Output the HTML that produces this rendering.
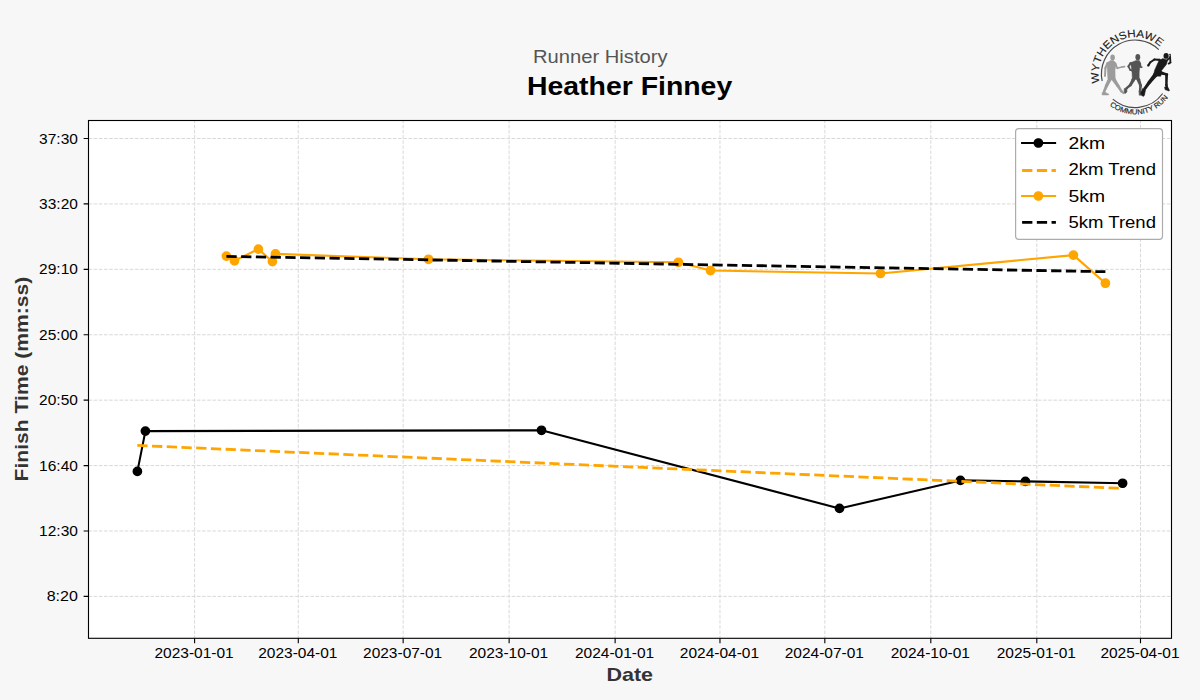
<!DOCTYPE html><html><head><meta charset="utf-8"><title>Runner History - Heather Finney</title><style>html,body{margin:0;padding:0;background:#f7f7f7;}svg{display:block}text{font-family:"Liberation Sans",sans-serif}</style></head><body>
<svg width="1200" height="700" viewBox="0 0 1200 700">
<rect x="0" y="0" width="1200" height="700" fill="#f7f7f7"/>
<rect x="88.5" y="120.5" width="1083.0" height="517.8" fill="#ffffff"/>
<path d="M88.5 138.50H1171.5 M88.5 203.92H1171.5 M88.5 269.33H1171.5 M88.5 334.75H1171.5 M88.5 400.16H1171.5 M88.5 465.57H1171.5 M88.5 530.99H1171.5 M88.5 596.40H1171.5" stroke="#d8d8d8" stroke-width="0.97" stroke-dasharray="3.6 1.56" fill="none"/>
<path d="M194.60 638.3V120.5 M298.29 638.3V120.5 M403.14 638.3V120.5 M509.13 638.3V120.5 M615.13 638.3V120.5 M719.97 638.3V120.5 M824.82 638.3V120.5 M930.81 638.3V120.5 M1036.81 638.3V120.5 M1140.50 638.3V120.5" stroke="#d8d8d8" stroke-width="0.97" stroke-dasharray="3.6 1.56" fill="none" stroke-dashoffset="0.86"/>
<g clip-path="url(#axclip)">
<path d="M137.4 471.4 L145.4 431.1 L541.5 430.3 L839.5 508.4 L960.4 480.4 L1025.4 481.4 L1122.6 483.25" stroke="#000000" stroke-width="2.08" fill="none" stroke-linejoin="round" stroke-linecap="square"/>
<circle cx="137.4" cy="471.4" r="4.17" fill="#000000" stroke="#000000" stroke-width="1.39"/>
<circle cx="145.4" cy="431.1" r="4.17" fill="#000000" stroke="#000000" stroke-width="1.39"/>
<circle cx="541.5" cy="430.3" r="4.17" fill="#000000" stroke="#000000" stroke-width="1.39"/>
<circle cx="839.5" cy="508.4" r="4.17" fill="#000000" stroke="#000000" stroke-width="1.39"/>
<circle cx="960.4" cy="480.4" r="4.17" fill="#000000" stroke="#000000" stroke-width="1.39"/>
<circle cx="1025.4" cy="481.4" r="4.17" fill="#000000" stroke="#000000" stroke-width="1.39"/>
<circle cx="1122.6" cy="483.25" r="4.17" fill="#000000" stroke="#000000" stroke-width="1.39"/>
<path d="M137.3 445.4 L1122.6 488.4" stroke="#ffa500" stroke-width="2.78" stroke-dasharray="10.28 4.45" fill="none"/>
<path d="M226.4 256.1 L234.5 260.8 L258.4 249.1 L272.4 261.6 L275.5 253.9 L428.5 259.3 L678.4 262.3 L710.5 270.55 L880.5 273.5 L1073.4 255.1 L1105.4 283.2" stroke="#ffa500" stroke-width="2.08" fill="none" stroke-linejoin="round" stroke-linecap="square"/>
<circle cx="226.4" cy="256.1" r="4.17" fill="#ffa500" stroke="#ffa500" stroke-width="1.39"/>
<circle cx="234.5" cy="260.8" r="4.17" fill="#ffa500" stroke="#ffa500" stroke-width="1.39"/>
<circle cx="258.4" cy="249.1" r="4.17" fill="#ffa500" stroke="#ffa500" stroke-width="1.39"/>
<circle cx="272.4" cy="261.6" r="4.17" fill="#ffa500" stroke="#ffa500" stroke-width="1.39"/>
<circle cx="275.5" cy="253.9" r="4.17" fill="#ffa500" stroke="#ffa500" stroke-width="1.39"/>
<circle cx="428.5" cy="259.3" r="4.17" fill="#ffa500" stroke="#ffa500" stroke-width="1.39"/>
<circle cx="678.4" cy="262.3" r="4.17" fill="#ffa500" stroke="#ffa500" stroke-width="1.39"/>
<circle cx="710.5" cy="270.55" r="4.17" fill="#ffa500" stroke="#ffa500" stroke-width="1.39"/>
<circle cx="880.5" cy="273.5" r="4.17" fill="#ffa500" stroke="#ffa500" stroke-width="1.39"/>
<circle cx="1073.4" cy="255.1" r="4.17" fill="#ffa500" stroke="#ffa500" stroke-width="1.39"/>
<circle cx="1105.4" cy="283.2" r="4.17" fill="#ffa500" stroke="#ffa500" stroke-width="1.39"/>
<path d="M226.4 256.4 L1105.4 271.7" stroke="#000000" stroke-width="2.78" stroke-dasharray="10.28 4.45" fill="none"/>
</g>
<defs><clipPath id="axclip"><rect x="88.5" y="120.5" width="1083.0" height="517.8"/></clipPath></defs>
<rect x="88.5" y="120.5" width="1083.0" height="517.8" fill="none" stroke="#000" stroke-width="1.11"/>
<path d="M83.64 138.50H88.5 M83.64 203.92H88.5 M83.64 269.33H88.5 M83.64 334.75H88.5 M83.64 400.16H88.5 M83.64 465.57H88.5 M83.64 530.99H88.5 M83.64 596.40H88.5 M194.60 638.3V643.16 M298.29 638.3V643.16 M403.14 638.3V643.16 M509.13 638.3V643.16 M615.13 638.3V643.16 M719.97 638.3V643.16 M824.82 638.3V643.16 M930.81 638.3V643.16 M1036.81 638.3V643.16 M1140.50 638.3V643.16" stroke="#000" stroke-width="1.11" fill="none"/>
<text x="77.9" y="143.50" font-size="14.3" text-anchor="end" textLength="38.8" lengthAdjust="spacingAndGlyphs" fill="#000">37:30</text>
<text x="77.9" y="208.92" font-size="14.3" text-anchor="end" textLength="38.8" lengthAdjust="spacingAndGlyphs" fill="#000">33:20</text>
<text x="77.9" y="274.33" font-size="14.3" text-anchor="end" textLength="38.8" lengthAdjust="spacingAndGlyphs" fill="#000">29:10</text>
<text x="77.9" y="339.75" font-size="14.3" text-anchor="end" textLength="38.8" lengthAdjust="spacingAndGlyphs" fill="#000">25:00</text>
<text x="77.9" y="405.16" font-size="14.3" text-anchor="end" textLength="38.8" lengthAdjust="spacingAndGlyphs" fill="#000">20:50</text>
<text x="77.9" y="470.57" font-size="14.3" text-anchor="end" textLength="38.8" lengthAdjust="spacingAndGlyphs" fill="#000">16:40</text>
<text x="77.9" y="535.99" font-size="14.3" text-anchor="end" textLength="38.8" lengthAdjust="spacingAndGlyphs" fill="#000">12:30</text>
<text x="77.9" y="601.40" font-size="14.3" text-anchor="end" textLength="31.21" lengthAdjust="spacingAndGlyphs" fill="#000">8:20</text>
<text x="194.10" y="658.1" font-size="14.3" text-anchor="middle" textLength="79.2" lengthAdjust="spacingAndGlyphs" fill="#000">2023-01-01</text>
<text x="297.79" y="658.1" font-size="14.3" text-anchor="middle" textLength="79.2" lengthAdjust="spacingAndGlyphs" fill="#000">2023-04-01</text>
<text x="402.64" y="658.1" font-size="14.3" text-anchor="middle" textLength="79.2" lengthAdjust="spacingAndGlyphs" fill="#000">2023-07-01</text>
<text x="508.63" y="658.1" font-size="14.3" text-anchor="middle" textLength="79.2" lengthAdjust="spacingAndGlyphs" fill="#000">2023-10-01</text>
<text x="614.63" y="658.1" font-size="14.3" text-anchor="middle" textLength="79.2" lengthAdjust="spacingAndGlyphs" fill="#000">2024-01-01</text>
<text x="719.47" y="658.1" font-size="14.3" text-anchor="middle" textLength="79.2" lengthAdjust="spacingAndGlyphs" fill="#000">2024-04-01</text>
<text x="824.32" y="658.1" font-size="14.3" text-anchor="middle" textLength="79.2" lengthAdjust="spacingAndGlyphs" fill="#000">2024-07-01</text>
<text x="930.31" y="658.1" font-size="14.3" text-anchor="middle" textLength="79.2" lengthAdjust="spacingAndGlyphs" fill="#000">2024-10-01</text>
<text x="1036.31" y="658.1" font-size="14.3" text-anchor="middle" textLength="79.2" lengthAdjust="spacingAndGlyphs" fill="#000">2025-01-01</text>
<text x="1140.00" y="658.1" font-size="14.3" text-anchor="middle" textLength="79.2" lengthAdjust="spacingAndGlyphs" fill="#000">2025-04-01</text>
<text x="629.75" y="680.75" font-size="17.8" font-weight="bold" text-anchor="middle" textLength="46.6" lengthAdjust="spacingAndGlyphs" fill="#333333">Date</text>
<text transform="translate(27.9 379.1) rotate(-90)" x="0" y="0" font-size="17.8" font-weight="bold" text-anchor="middle" textLength="204.6" lengthAdjust="spacingAndGlyphs" fill="#333333">Finish Time (mm:ss)</text>
<text x="600.3" y="62.9" font-size="17.8" text-anchor="middle" textLength="134.6" lengthAdjust="spacingAndGlyphs" fill="#555555">Runner History</text>
<text x="629.6" y="95" font-size="25.2" font-weight="bold" text-anchor="middle" textLength="205.3" lengthAdjust="spacingAndGlyphs" fill="#000">Heather Finney</text>
<rect x="1015.6" y="128.6" width="146.89999999999998" height="110.70000000000002" rx="3.3" ry="3.3" fill="#ffffff" stroke="#acacac" stroke-width="1.2"/>
<path d="M1022.1 143H1055.1" stroke="#000000" stroke-width="2.08" stroke-linecap="square"/>
<circle cx="1038.4" cy="143" r="4.17" fill="#000000" stroke="#000000" stroke-width="1.39"/>
<text x="1068.5" y="148.9" font-size="17.4" textLength="36.5" lengthAdjust="spacingAndGlyphs" fill="#000">2km</text>
<path d="M1022.1 170.5H1055.9" stroke="#ffa500" stroke-width="2.78" stroke-dasharray="10.28 4.45"/>
<text x="1068.5" y="174.9" font-size="17.4" textLength="87.42" lengthAdjust="spacingAndGlyphs" fill="#000">2km Trend</text>
<path d="M1022.1 196H1055.1" stroke="#ffa500" stroke-width="2.08" stroke-linecap="square"/>
<circle cx="1038.4" cy="196" r="4.17" fill="#ffa500" stroke="#ffa500" stroke-width="1.39"/>
<text x="1068.5" y="202" font-size="17.4" textLength="36.5" lengthAdjust="spacingAndGlyphs" fill="#000">5km</text>
<path d="M1022.1 222.4H1055.9" stroke="#000000" stroke-width="2.78" stroke-dasharray="10.28 4.45"/>
<text x="1068.5" y="227.9" font-size="17.4" textLength="87.42" lengthAdjust="spacingAndGlyphs" fill="#000">5km Trend</text>
<g id="logo"><path d="M1102.18 81.00 A33.8 33.8 0 0 1 1158.76 49.57" stroke="#4a4a4a" stroke-width="1.2" fill="none"/><path d="M1112.80 99.11 A33.8 33.8 0 0 0 1162.65 93.52" stroke="#4a4a4a" stroke-width="1.2" fill="none"/><defs><path id="arcT" d="M1099.77 82.96 A36.6 36.6 0 0 1 1159.74 46.64"/><path id="arcB" d="M1109.65 105.35 A40.6 40.6 0 0 0 1168.05 97.66"/></defs><text font-size="10.6" fill="#1a1a1a" stroke="#1a1a1a" stroke-width="0.12"><textPath href="#arcT" textLength="93.6" lengthAdjust="spacingAndGlyphs">WYTHENSHAWE</textPath></text><text font-size="7.2" fill="#222" stroke="#222" stroke-width="0.15"><textPath href="#arcB" textLength="65.9" lengthAdjust="spacingAndGlyphs">COMMUNITY RUN</textPath></text><ellipse cx="1112.6" cy="57.4" rx="2.3" ry="3.0" fill="#9c9c9c"/><path d="M1110.4 60.6 L1113.6 60.6 L1114.9 62.0 L1116.0 64.8 L1115.0 70.0 L1115.2 78.4 L1107.9 78.8 L1107.4 72.0 L1107.0 64.0 L1108.2 62.0Z" fill="#9c9c9c" stroke="#9c9c9c" stroke-width="0.5" stroke-linejoin="round"/><path d="M1106.59 62.56 L1104.42 67.80 L1104.10 75.96 L1105.90 76.04 L1106.38 68.20 L1108.61 63.44Z" fill="#9c9c9c"/><circle cx="1107.6" cy="63.0" r="1.10" fill="#9c9c9c"/><circle cx="1105.4" cy="68.0" r="1.00" fill="#9c9c9c"/><circle cx="1105.0" cy="76.0" r="0.90" fill="#9c9c9c"/><path d="M1114.20 63.86 L1116.96 69.04 L1122.17 67.78 L1124.72 67.39 L1124.48 65.81 L1121.83 66.22 L1117.84 67.36 L1116.20 62.94Z" fill="#9c9c9c"/><circle cx="1115.2" cy="63.4" r="1.10" fill="#9c9c9c"/><circle cx="1117.4" cy="68.2" r="0.95" fill="#9c9c9c"/><circle cx="1122.0" cy="67.0" r="0.80" fill="#9c9c9c"/><circle cx="1124.6" cy="66.6" r="0.80" fill="#9c9c9c"/><path d="M1108.41 77.51 L1105.15 84.93 L1102.89 91.34 L1105.11 92.26 L1108.05 86.27 L1111.99 79.29Z" fill="#9c9c9c"/><circle cx="1110.2" cy="78.4" r="2.00" fill="#9c9c9c"/><circle cx="1106.6" cy="85.6" r="1.60" fill="#9c9c9c"/><circle cx="1104.0" cy="91.8" r="1.20" fill="#9c9c9c"/><path d="M1102.0 92.6 L1104.8 92.0 L1108.8 94.2 L1108.6 95.0 L1102.2 95.0Z" fill="#9c9c9c" stroke="#9c9c9c" stroke-width="0.5" stroke-linejoin="round"/><path d="M1111.53 79.70 L1116.54 86.42 L1120.46 91.94 L1123.16 93.97 L1124.44 92.43 L1122.34 90.46 L1119.06 84.78 L1114.87 77.50Z" fill="#9c9c9c"/><circle cx="1113.2" cy="78.6" r="2.00" fill="#9c9c9c"/><circle cx="1117.8" cy="85.6" r="1.50" fill="#9c9c9c"/><circle cx="1121.4" cy="91.2" r="1.20" fill="#9c9c9c"/><circle cx="1123.8" cy="93.2" r="1.00" fill="#9c9c9c"/><ellipse cx="1137.8" cy="57.2" rx="2.4" ry="3.1" fill="#545454"/><path d="M1136.2 60.4 L1139.4 60.6 L1140.4 63.0 L1139.2 72.0 L1139.2 79.6 L1132.4 79.4 L1132.0 72.0 L1131.2 66.4 L1130.4 62.8Z" fill="#545454" stroke="#545454" stroke-width="0.5" stroke-linejoin="round"/><path d="M1129.90 62.37 L1127.40 66.31 L1129.55 70.42 L1132.09 71.45 L1132.71 69.75 L1130.85 69.18 L1129.40 66.49 L1131.70 63.63Z" fill="#545454"/><circle cx="1130.8" cy="63.0" r="1.10" fill="#545454"/><circle cx="1128.4" cy="66.4" r="1.00" fill="#545454"/><circle cx="1130.2" cy="69.8" r="0.90" fill="#545454"/><circle cx="1132.4" cy="70.6" r="0.90" fill="#545454"/><path d="M1139.02 63.57 L1139.79 67.19 L1141.55 67.96 L1142.05 66.44 L1141.41 66.41 L1140.98 63.23Z" fill="#545454"/><circle cx="1140.0" cy="63.4" r="1.00" fill="#545454"/><circle cx="1140.6" cy="66.8" r="0.90" fill="#545454"/><circle cx="1141.8" cy="67.2" r="0.80" fill="#545454"/><path d="M1131.83 78.73 L1129.30 84.13 L1125.69 87.56 L1127.11 89.24 L1131.50 85.87 L1134.97 80.47Z" fill="#545454"/><circle cx="1133.4" cy="79.6" r="1.80" fill="#545454"/><circle cx="1130.4" cy="85.0" r="1.40" fill="#545454"/><circle cx="1126.4" cy="88.4" r="1.10" fill="#545454"/><path d="M1124.2 88.6 L1126.8 88.2 L1127.0 91.8 L1125.6 93.4 L1124.2 92.6Z" fill="#545454" stroke="#545454" stroke-width="0.5" stroke-linejoin="round"/><path d="M1136.71 80.22 L1139.21 85.79 L1138.81 91.28 L1141.19 91.52 L1141.99 85.41 L1140.09 78.98Z" fill="#545454"/><circle cx="1138.4" cy="79.6" r="1.80" fill="#545454"/><circle cx="1140.6" cy="85.6" r="1.40" fill="#545454"/><circle cx="1140.0" cy="91.4" r="1.20" fill="#545454"/><path d="M1139.0 91.0 L1141.2 91.0 L1144.0 94.4 L1143.6 95.4 L1139.2 95.2Z" fill="#545454" stroke="#545454" stroke-width="0.5" stroke-linejoin="round"/><ellipse cx="1166.1" cy="55.9" rx="2.6" ry="2.9" fill="#1a1a1a"/><path d="M1167.97 60.50 L1170.32 58.36 L1169.16 54.75 L1169.46 62.45 L1168.16 62.81 L1169.04 64.39 L1171.34 62.75 L1170.84 54.45 L1168.88 57.64 L1166.83 59.10Z" fill="#1a1a1a"/><circle cx="1167.4" cy="59.8" r="0.90" fill="#1a1a1a"/><circle cx="1169.6" cy="58.0" r="0.80" fill="#1a1a1a"/><circle cx="1170.0" cy="54.6" r="0.85" fill="#1a1a1a"/><circle cx="1170.4" cy="62.6" r="0.95" fill="#1a1a1a"/><circle cx="1168.6" cy="63.6" r="0.90" fill="#1a1a1a"/><path d="M1162.8 58.6 L1167.6 60.2 L1166.4 64.4 L1161.6 70.4 L1160.8 76.2 L1153.4 76.0 L1154.6 70.2 L1159.0 60.6Z" fill="#1a1a1a" stroke="#1a1a1a" stroke-width="0.5" stroke-linejoin="round"/><path d="M1159.64 58.70 L1154.12 58.59 L1149.50 61.68 L1147.27 65.02 L1149.13 66.18 L1150.90 63.12 L1154.68 60.61 L1159.56 60.90Z" fill="#1a1a1a"/><circle cx="1159.6" cy="59.8" r="1.10" fill="#1a1a1a"/><circle cx="1154.4" cy="59.6" r="1.05" fill="#1a1a1a"/><circle cx="1150.2" cy="62.4" r="1.00" fill="#1a1a1a"/><circle cx="1148.2" cy="65.6" r="1.10" fill="#1a1a1a"/><path d="M1159.05 74.52 L1165.20 75.37 L1165.20 85.03 L1165.82 88.61 L1168.18 88.19 L1167.60 84.97 L1168.00 73.83 L1160.15 70.68Z" fill="#1a1a1a"/><circle cx="1159.6" cy="72.6" r="2.00" fill="#1a1a1a"/><circle cx="1166.6" cy="74.6" r="1.60" fill="#1a1a1a"/><circle cx="1166.4" cy="85.0" r="1.20" fill="#1a1a1a"/><circle cx="1167.0" cy="88.4" r="1.20" fill="#1a1a1a"/><path d="M1164.6 87.0 L1167.6 86.8 L1169.6 90.4 L1168.8 91.0 L1165.0 89.6Z" fill="#1a1a1a" stroke="#1a1a1a" stroke-width="0.5" stroke-linejoin="round"/><path d="M1153.69 73.41 L1148.05 81.16 L1143.66 87.78 L1145.94 89.42 L1150.75 83.24 L1157.11 76.19Z" fill="#1a1a1a"/><circle cx="1155.4" cy="74.8" r="2.20" fill="#1a1a1a"/><circle cx="1149.4" cy="82.2" r="1.70" fill="#1a1a1a"/><circle cx="1144.8" cy="88.6" r="1.40" fill="#1a1a1a"/><path d="M1142.6 88.4 L1145.6 89.6 L1144.4 95.4 L1143.0 96.6 L1140.6 93.6Z" fill="#1a1a1a" stroke="#1a1a1a" stroke-width="0.5" stroke-linejoin="round"/></g>
</svg></body></html>
